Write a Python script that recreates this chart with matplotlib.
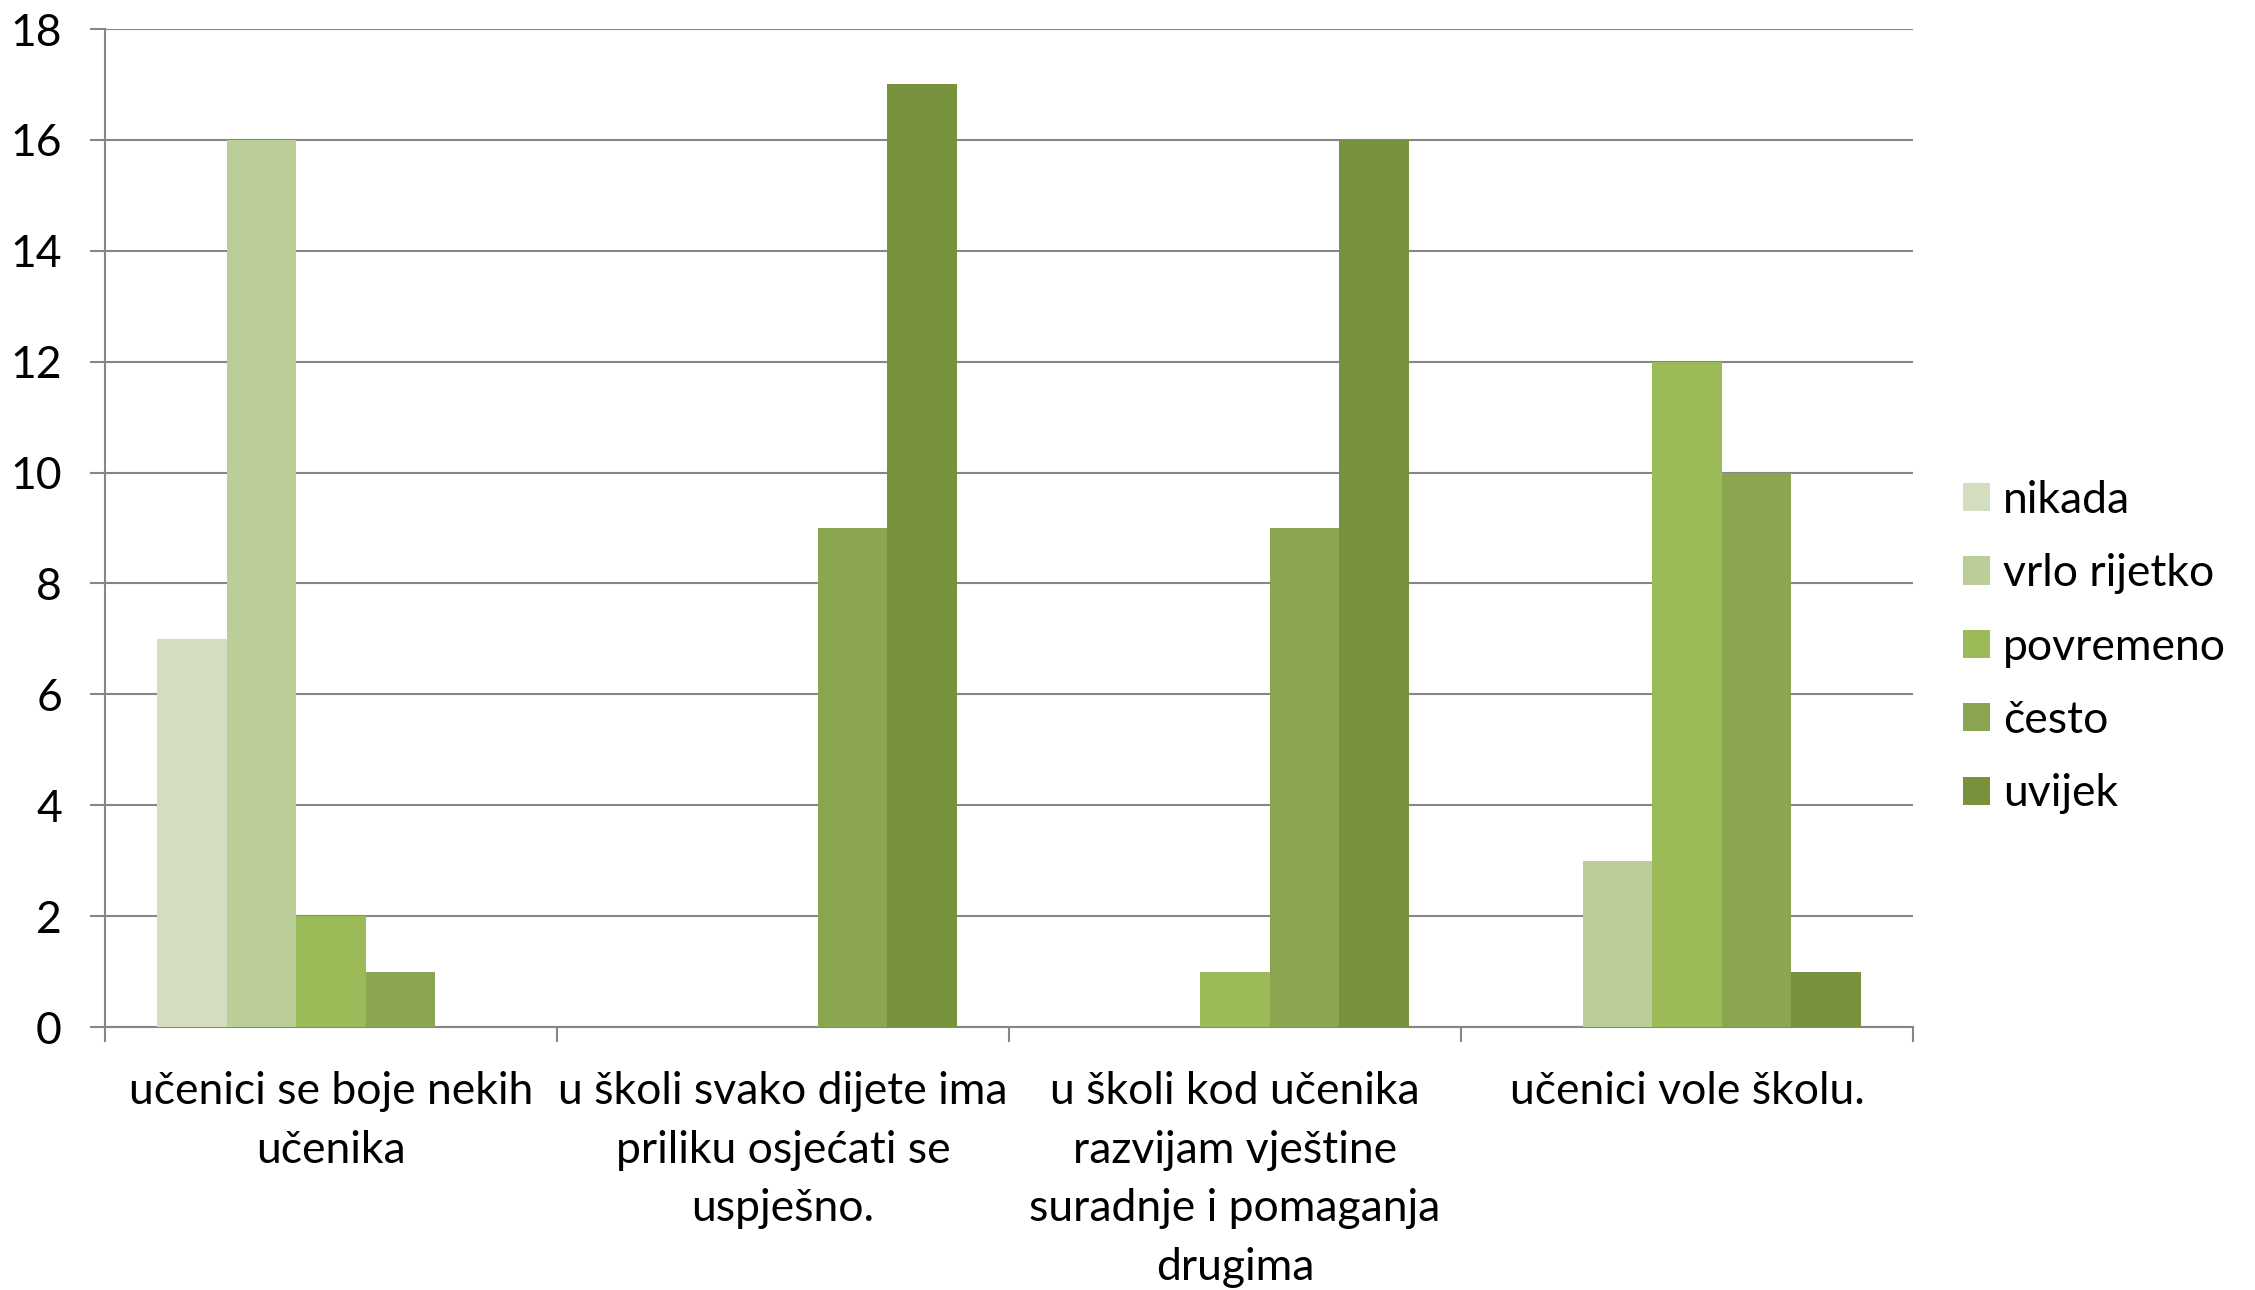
import numpy as np
import matplotlib
matplotlib.use("Agg")
from matplotlib import pyplot as plt

categories = [
    "učenici se boje nekih\nučenika",
    "u školi svako dijete ima\npriliku osjećati se\nuspješno.",
    "u školi kod učenika\nrazvijam vještine\nsuradnje i pomaganja\ndrugima",
    "učenici vole školu.",
]
series_names = ["nikada", "vrlo rijetko", "povremeno", "često", "uvijek"]
nikada = [7, 0, 0, 0]
vrlo_rijetko = [16, 0, 0, 3]
povremeno = [2, 0, 1, 12]
cesto = [1, 9, 9, 10]
uvijek = [0, 17, 16, 1]
colors = ["#D2DEBF", "#BBCE98", "#9BBB59", "#8AA651", "#77923D"]

plt.rcParams['font.family'] = ['Lato', 'DejaVu Sans']

fig = plt.figure(figsize=(22.55, 12.9), dpi=100)
ax = fig.add_axes([105/2255, 1 - 1027/1290, (1913-105)/2255, (1027-29)/1290])

x = np.arange(len(categories))
n = len(series_names)
bw = 0.77 / n
for i, vals in enumerate([nikada, vrlo_rijetko, povremeno, cesto, uvijek]):
    ax.bar(x - 0.385 + bw*(i+0.5), vals, width=bw, color=colors[i],
           label=series_names[i], zorder=3)

gray = "#868686"
ax.set_xlim(-0.5, 3.5)
ax.set_ylim(0, 18)
ax.set_yticks(range(0, 19, 2))
ax.yaxis.grid(True, color=gray, linewidth=1.5, zorder=0)
ax.set_axisbelow(True)
for s in ["top", "right"]:
    ax.spines[s].set_visible(False)
for s in ["left", "bottom"]:
    ax.spines[s].set_color(gray)
    ax.spines[s].set_linewidth(1.5)

ax.set_xticks(x)
ax.set_xticklabels(categories, fontsize=32, linespacing=1.53)
ax.set_xticks(np.arange(-0.5, 3.6, 1), minor=True)
ax.tick_params(axis="x", which="major", length=0, pad=32)
ax.tick_params(axis="x", which="minor", length=11, width=1.5, color=gray)
ax.tick_params(axis="y", length=11, width=1.5, color=gray, pad=20, labelsize=32)

ax.legend(loc="center left", bbox_to_anchor=(1963/2255, 1 - 647/1290),
          bbox_transform=fig.transFigure, frameon=False, fontsize=32,
          borderaxespad=0, borderpad=0, handlelength=0.6, handleheight=0.6,
          handletextpad=0.3, labelspacing=0.73)

fig.savefig("out.png", dpi=100)
